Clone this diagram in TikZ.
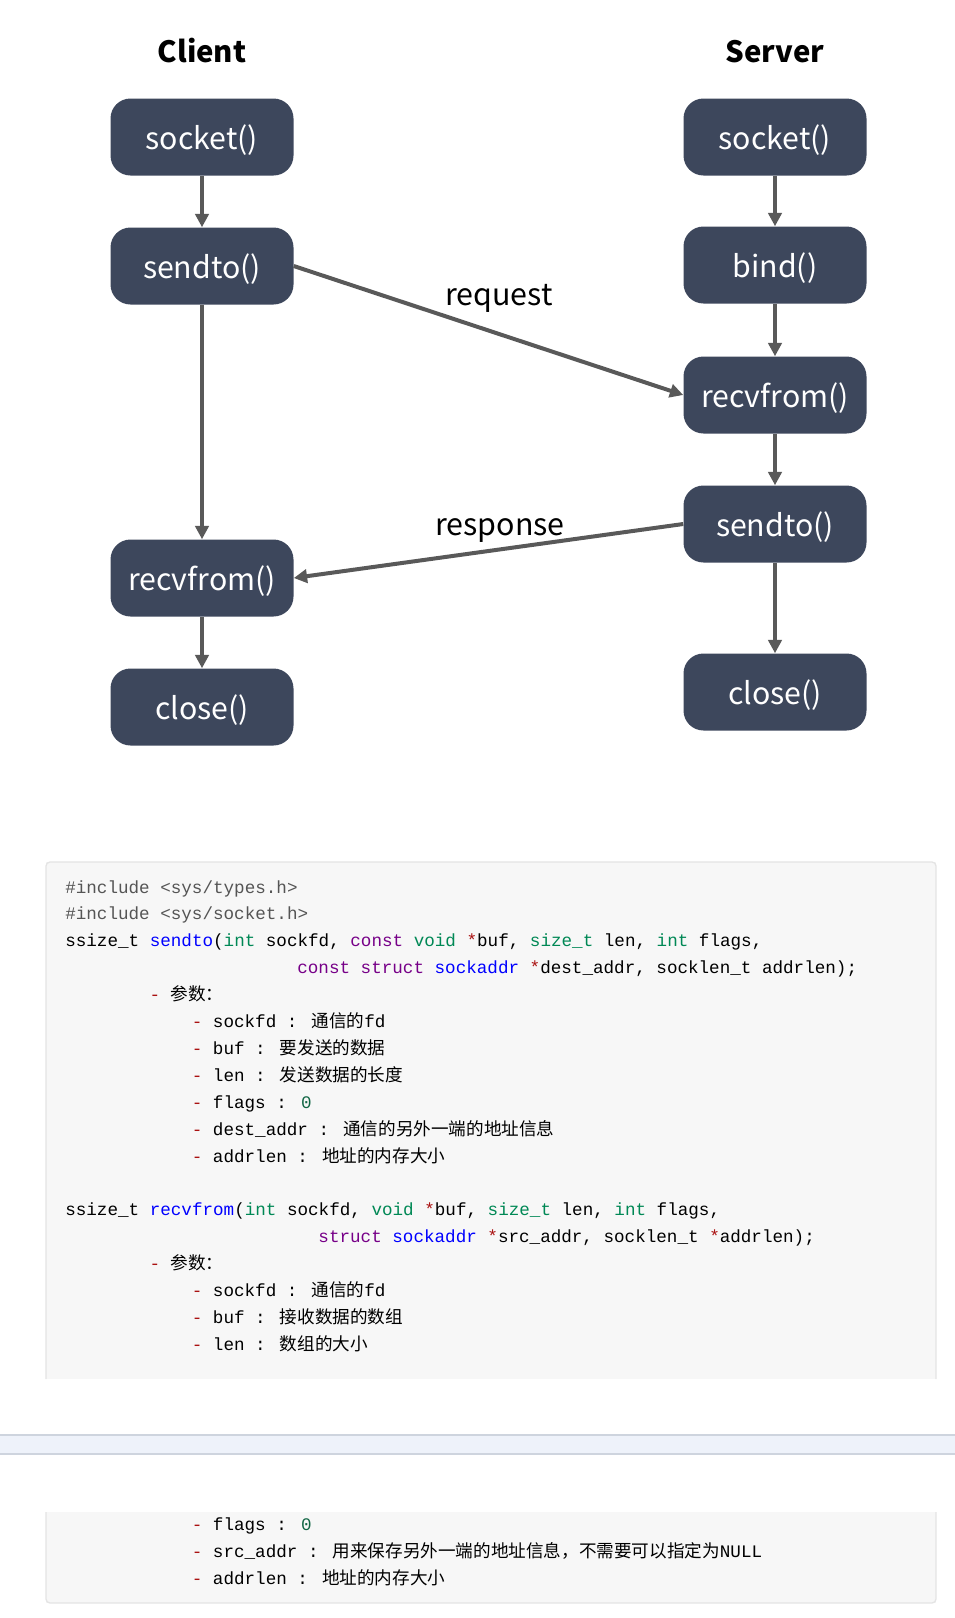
\documentclass[tikz,border=0pt]{standalone}
\usepackage{fontspec}
\usepackage{xcolor}
\setmainfont{Noto Sans CJK SC}
\newfontfamily\cjk{Noto Sans CJK SC}
\newfontfamily\codefont{Liberation Mono}
\usetikzlibrary{arrows.meta}

\definecolor{boxfill}{RGB}{61,71,92}
\definecolor{arrowgray}{RGB}{89,89,89}
\definecolor{codebg}{RGB}{247,247,247}
\definecolor{codeborder}{RGB}{228,228,228}
\definecolor{bandfill}{RGB}{238,242,250}
\definecolor{bandline}{RGB}{206,212,222}
\definecolor{cmkw}{HTML}{770088}
\definecolor{cmty}{HTML}{008855}
\definecolor{cmdef}{HTML}{0000FF}
\definecolor{cmop}{HTML}{AA1111}
\definecolor{cmnum}{HTML}{116644}
\definecolor{cmmeta}{HTML}{555555}

\newcommand\kw[1]{\textcolor{cmkw}{#1}}
\newcommand\ty[1]{\textcolor{cmty}{#1}}
\newcommand\fn[1]{\textcolor{cmdef}{#1}}
\newcommand\op[1]{\textcolor{cmop}{#1}}
\newcommand\num[1]{\textcolor{cmnum}{#1}}
\newcommand\meta[1]{\textcolor{cmmeta}{#1}}

\begin{document}
\begin{tikzpicture}[x=0.75pt,y=-0.75pt,
    call/.style={rectangle,rounded corners=15pt,fill=boxfill,text=white,
      minimum width=137.25pt,minimum height=57.75pt,text height=21pt,text depth=3pt,
      font=\fontsize{22.7pt}{27pt}\selectfont},
    connection/.style={-{Triangle[length=10pt,width=10pt]},line width=3pt,draw=arrowgray},
    side/.style={anchor=base,font=\fontsize{22pt}{27pt}\selectfont\bfseries},
    msg/.style={anchor=base,font=\fontsize{22.8pt}{27pt}\selectfont},
    codeline/.style={anchor=base west,inner sep=0pt,
      font=\codefont\fontsize{13.2pt}{16pt}\selectfont},
  ]
  \useasboundingbox (0,0) rectangle (955,1618);

  % the two sides
  \node[side] (client) at (202,62) {Client};
  \node[side] (server) at (775,62) {Server};

  \node[call] (csocket) at (202,137) {socket()};
  \node[call] (csendto) at (202,266) {sendto()};
  \node[call] (crecvfrom) at (202,578) {recvfrom()};
  \node[call] (cclose) at (202,707) {close()};

  \node[call] (ssocket) at (775,137) {socket()};
  \node[call] (sbind) at (775,265) {bind()};
  \node[call] (srecvfrom) at (775,395) {recvfrom()};
  \node[call] (ssendto) at (775,524) {sendto()};
  \node[call] (sclose) at (775,692) {close()};

  \foreach \a/\b in {csocket/csendto,csendto/crecvfrom,crecvfrom/cclose,
      ssocket/sbind,sbind/srecvfrom,srecvfrom/ssendto,ssendto/sclose} {
    \draw[connection] (\a) -- (\b);
  }

  \draw[connection] (csendto.east) -- (srecvfrom.west);
  \draw[connection] (ssendto.west) -- (crecvfrom.east);
  \node[msg] (request) at (499,305) {request};
  \node[msg] (response) at (500,535) {response};

  % code panels
  \fill[codebg] (46,862) rectangle (936,1379);
  \draw[codeborder,line width=1pt,rounded corners=3pt] (46,1379) -- (46,862) -- (936,862) -- (936,1379);
  \fill[bandfill] (0,1435) rectangle (955,1454);
  \draw[bandline,line width=1.2pt] (0,1435) -- (955,1435) (0,1454) -- (955,1454);
  \fill[codebg] (46,1512) rectangle (936,1603);
  \draw[codeborder,line width=1pt,rounded corners=3pt] (46,1512) -- (46,1603) -- (936,1603) -- (936,1512);

  \node[codeline] (code1) at (65,893) {\meta{\#include <sys/types.h>}};
  \node[codeline] (code2) at (65,919.9) {\meta{\#include <sys/socket.h>}};
  \node[codeline] (code3) at (65,946.8) {ssize\_t \fn{sendto}(\ty{int} sockfd, \kw{const} \ty{void} \op{*}buf, \ty{size\_t} len, \ty{int} flags,};
  \node[codeline] (code4) at (297.1,973.7) {\kw{const} \kw{struct} \fn{sockaddr} \op{*}dest\_addr, socklen\_t addrlen);};
  \node[codeline] (code5) at (149.4,1000.6) {\op{-} {\cjk 参数：}};
  \node[codeline] (code6) at (191.6,1027.5) {\op{-} sockfd : {\cjk 通信的}fd};
  \node[codeline] (code7) at (191.6,1054.4) {\op{-} buf : {\cjk 要发送的数据}};
  \node[codeline] (code8) at (191.6,1081.3) {\op{-} len : {\cjk 发送数据的长度}};
  \node[codeline] (code9) at (191.6,1108.2) {\op{-} flags : \num{0}};
  \node[codeline] (code10) at (191.6,1135.1) {\op{-} dest\_addr : {\cjk 通信的另外一端的地址信息}};
  \node[codeline] (code11) at (191.6,1162) {\op{-} addrlen : {\cjk 地址的内存大小}};

  \node[codeline] (code12) at (65,1215.8) {ssize\_t \fn{recvfrom}(\ty{int} sockfd, \ty{void} \op{*}buf, \ty{size\_t} len, \ty{int} flags,};
  \node[codeline] (code13) at (318.2,1242.7) {\kw{struct} \fn{sockaddr} \op{*}src\_addr, socklen\_t \op{*}addrlen);};
  \node[codeline] (code14) at (149.4,1269.6) {\op{-} {\cjk 参数：}};
  \node[codeline] (code15) at (191.6,1296.5) {\op{-} sockfd : {\cjk 通信的}fd};
  \node[codeline] (code16) at (191.6,1323.4) {\op{-} buf : {\cjk 接收数据的数组}};
  \node[codeline] (code17) at (191.6,1350.3) {\op{-} len : {\cjk 数组的大小}};

  \node[codeline] (code18) at (191.6,1530) {\op{-} flags : \num{0}};
  \node[codeline] (code19) at (191.6,1557) {\op{-} src\_addr : {\cjk 用来保存另外一端的地址信息，不需要可以指定为}NULL};
  \node[codeline] (code20) at (191.6,1584) {\op{-} addrlen : {\cjk 地址的内存大小}};
\end{tikzpicture}
\end{document}
